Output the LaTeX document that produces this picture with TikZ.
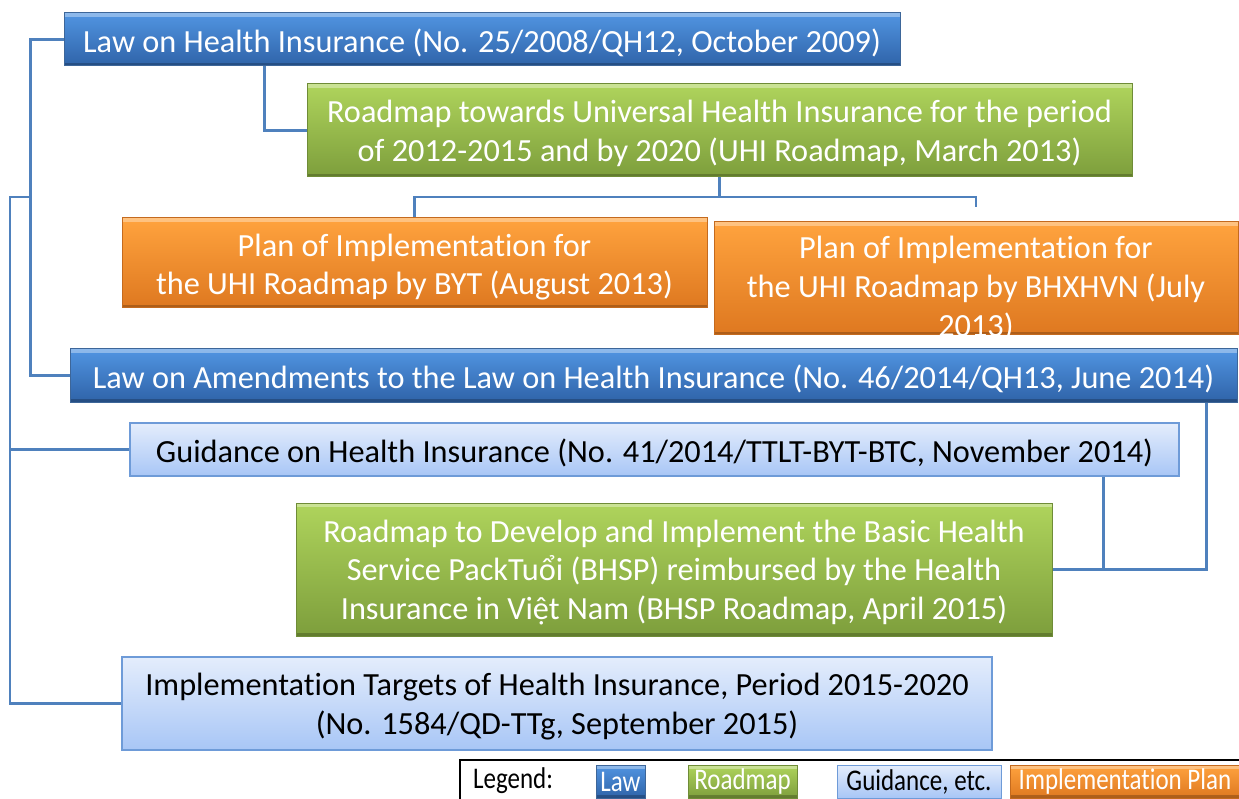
\documentclass[tikz,border=0pt]{standalone}
\usepackage{fontspec}
\setmainfont{Carlito}[Ligatures=NoCommon]
\usetikzlibrary{calc}

\definecolor{lawtop}{HTML}{5195E2}
\definecolor{lawbot}{HTML}{2F63A8}
\definecolor{lawedge}{HTML}{3D6699}
\definecolor{roadtop}{HTML}{AFD45C}
\definecolor{roadbot}{HTML}{7D9E3C}
\definecolor{roadedge}{HTML}{6F8C37}
\definecolor{plantop}{HTML}{FFA33E}
\definecolor{planbot}{HTML}{DE7820}
\definecolor{planedge}{HTML}{C46A1E}
\definecolor{guidtop}{HTML}{E4EDFC}
\definecolor{guidbot}{HTML}{A8C6F6}
\definecolor{guidedge}{HTML}{6E9BD8}
\definecolor{linkblue}{HTML}{4F81BD}

\tikzset{
  box/.style={rectangle, inner sep=0pt, align=center},
  bevel/.style={path picture={
      \fill[white, opacity=0.35] (path picture bounding box.north west)
        rectangle ([yshift=-4pt]path picture bounding box.north east);
      \fill[black, opacity=0.22] (path picture bounding box.south west)
        rectangle ([yshift=3pt]path picture bounding box.south east);
    }},
  lawbox/.style={box, bevel, top color=lawtop, bottom color=lawbot,
    draw=lawedge, line width=1pt, text=white},
  roadbox/.style={box, bevel, top color=roadtop, bottom color=roadbot,
    draw=roadedge, line width=1pt, text=white},
  planbox/.style={box, bevel, top color=plantop, bottom color=planbot,
    draw=planedge, line width=1pt, text=white},
  guidbox/.style={box, top color=guidtop, bottom color=guidbot,
    draw=guidedge, line width=1.5pt, text=black},
  boxtext/.style={inner sep=0pt, align=center, yshift=-3pt,
    font=\fontsize{32.3}{38.8}\selectfont},
  light/.style={boxtext, text=white},
  dark/.style={boxtext, text=black},
  legfont/.style={font=\fontsize{25}{28}\selectfont},
  conn/.style={draw=linkblue, line width=2.6pt},
}
% legend labels are set in a vertically stretched face
\newcommand\tallword[1]{\scalebox{1}[1.2]{#1}}

\begin{document}
\begin{tikzpicture}[x=1pt, y=-1pt]
\useasboundingbox (0,0) rectangle (1239,799);

% laws, roadmaps, plans and guidance documents
\node[lawbox, minimum width=836, minimum height=53] (law1) at (482,39.5) {};
\node[light] (law1t) at (law1.center)
  {Law on Health Insurance (No. 25/2008/QH12, October 2009)};

\node[roadbox, minimum width=825, minimum height=93] (road1) at (719.5,130.5) {};
\node[light] (road1t) at (road1.center)
  {Roadmap towards Universal Health Insurance for the period\\
   of 2012-2015 and by 2020 (UHI Roadmap, March 2013)};

\node[planbox, minimum width=585, minimum height=90] (byt) at (414.5,263) {};
\node[light] (bytt) at ($(byt.center)+(0,1)$)
  {Plan of Implementation for\\the UHI Roadmap by BYT (August 2013)};

\node[planbox, minimum width=524, minimum height=113] (hx) at (976,278.5) {};
\node[light] (hxt) at ($(hx.center)+(0,7)$)
  {Plan of Implementation for\\the UHI Roadmap by BHXHVN (July\\2013)};

\node[lawbox, minimum width=1167, minimum height=53] (law2) at (653.5,375.5) {};
\node[light] (law2t) at (law2.center)
  {Law on Amendments to the Law on Health Insurance (No. 46/2014/QH13, June 2014)};

\node[guidbox, minimum width=1049, minimum height=53] (guid) at (654.5,449.5) {};
\node[dark] (guidt) at (guid.center)
  {Guidance on Health Insurance (No. 41/2014/TTLT-BYT-BTC, November 2014)};

\node[roadbox, minimum width=756, minimum height=133] (bhsp) at (674,569.5) {};
\node[light] (bhspt) at (bhsp.center)
  {Roadmap to Develop and Implement the Basic Health\\
   Service PackTuổi (BHSP) reimbursed by the Health\\
   Insurance in Việt Nam (BHSP Roadmap, April 2015)};

\node[guidbox, minimum width=870, minimum height=93] (impl) at (557,703.5) {};
\node[dark] (implt) at (impl.center)
  {Implementation Targets of Health Insurance, Period 2015-2020\\
   (No. 1584/QD-TTg, September 2015)};

% connectors
\draw[conn] ($(law1.south west)+(201,0)$) |- (road1.west);
\draw[conn] (law1.west) -- ++(-33,0) coordinate (spineA) |- (law2.west);
\coordinate (joinA) at (spineA |- 0,197);
\coordinate (spineB) at (10,197);
\draw[conn] (joinA) -- (spineB) |- (impl.west);
\draw[conn] (spineB |- guid.west) -- (guid.west);
\coordinate (fork) at (road1.south |- 0,197);
\coordinate (hxend) at ($(hx.north)+(0,-14)$);
\draw[conn] (road1.south) -- (fork);
\draw[conn] (byt.north) |- (fork) -| (hxend);
\draw[conn] ($(law2.south east)+(-31,0)$) |- (bhsp.east);
\coordinate (guidfoot) at ($(guid.south east)+(-76,0)$);
\draw[conn] (guidfoot) -- (guidfoot |- bhsp.east);

% legend
\draw[black, line width=1.2pt] (460,760) rectangle (1260,815);
\node[legfont, inner sep=0pt] (legtitle) at (513,781) {\tallword{Legend:}};
\node[lawbox, legfont, line width=0.8pt, minimum width=49, minimum height=33] (leglaw)
  at (620.5,781.5) {\tallword{Law}};
\node[roadbox, legfont, line width=0.8pt, minimum width=109, minimum height=33] (legroad)
  at (742.5,781.5) {\tallword{Roadmap}};
\node[guidbox, legfont, line width=1pt, minimum width=164, minimum height=33] (legguid)
  at (919,781.5) {\tallword{Guidance, etc.}};
\node[planbox, legfont, line width=0.8pt, minimum width=230, minimum height=33] (legplan)
  at (1125,781.5) {\tallword{Implementation Plan}};
\end{tikzpicture}
\end{document}
